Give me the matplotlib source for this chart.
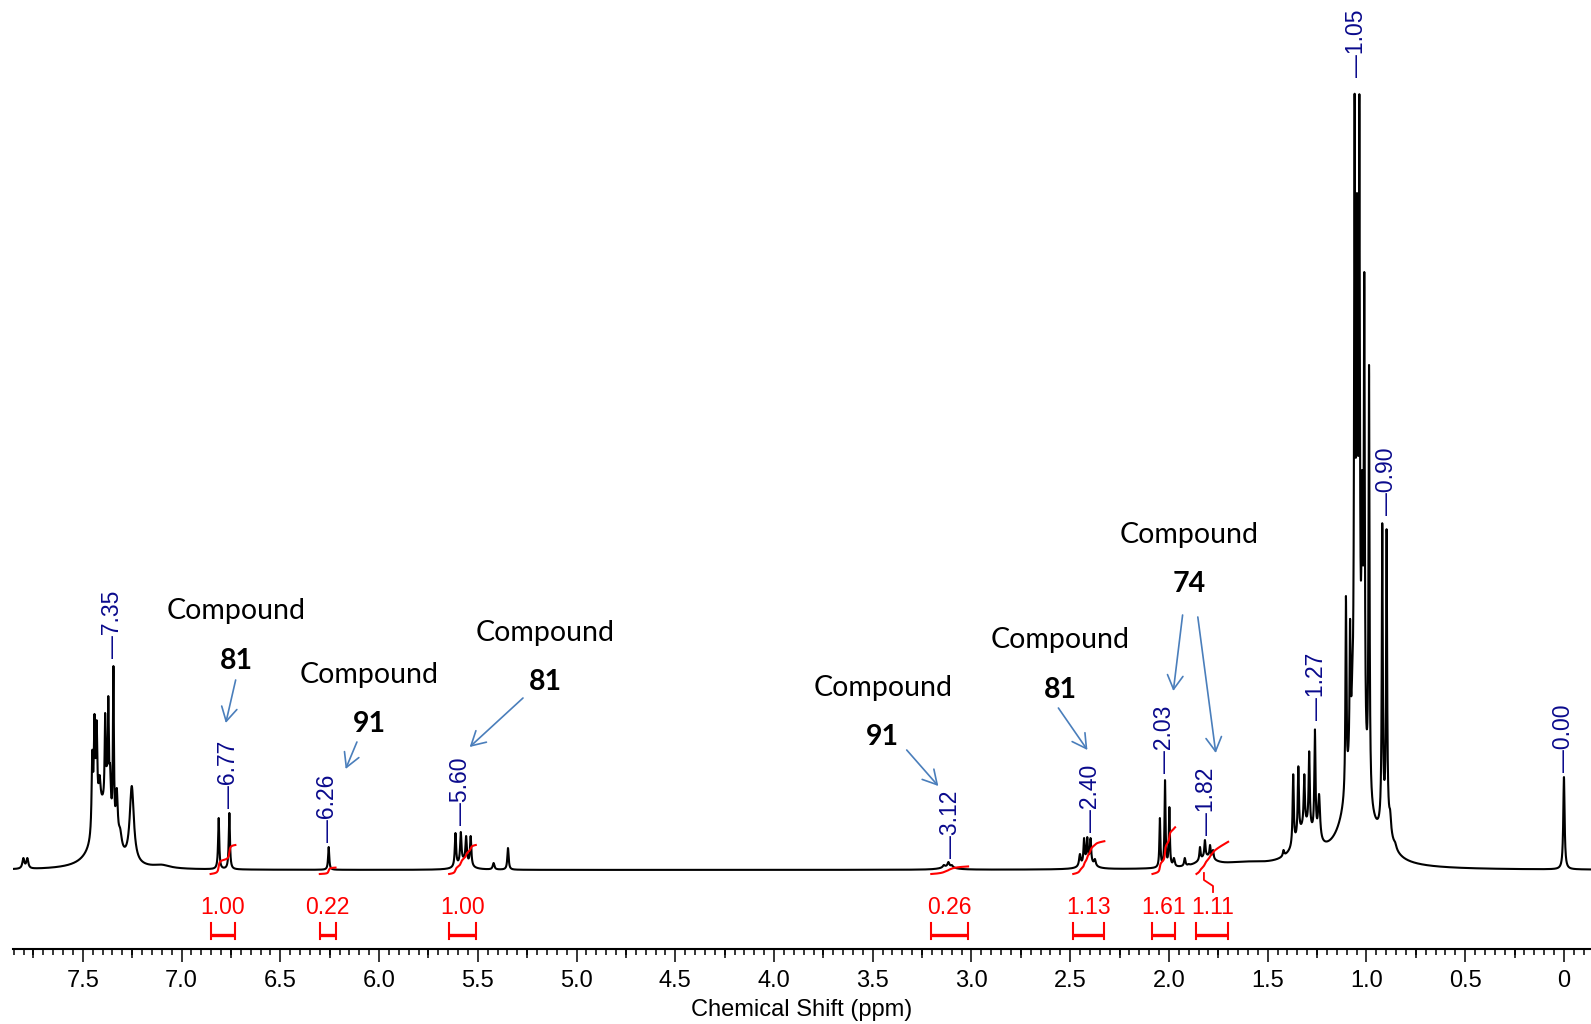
import numpy as np
import matplotlib
matplotlib.use("Agg")
import matplotlib.pyplot as plt
from matplotlib.ticker import MultipleLocator, FuncFormatter

# ---- sharp lines: shift (ppm), height (px above baseline), width (ppm)
peak_ppm = [7.801, 7.781,
            7.452, 7.441, 7.430, 7.415, 7.387, 7.379, 7.371, 7.362, 7.345, 7.328, 7.311, 7.252,
            6.812, 6.758, 6.255,
            5.613, 5.586, 5.559, 5.536, 5.42, 5.347,
            3.14, 3.117, 3.10,
            2.451, 2.430, 2.414, 2.397, 2.375,
            2.046, 2.020, 1.998, 1.975, 1.92, 1.90,
            1.843, 1.818, 1.792, 1.777,
            1.42, 1.371, 1.345, 1.315, 1.29, 1.261, 1.24,
            1.104, 1.083, 1.072, 1.060, 1.048, 1.036, 1.022, 1.011, 0.987,
            0.920, 0.898, 0.880, 0.855,
            0.000]
peak_height = [12, 12,
               120, 156, 150, 95, 157, 104, 174, 106, 204, 82, 42, 84,
               52, 57, 23,
               37, 38, 34, 34, 7, 22,
               5, 8, 5,
               16, 32, 33, 32, 11,
               52, 90, 63, 12, 12, 6,
               23, 30, 25, 20,
               20, 96, 104, 96, 119, 141, 76,
               274, 251, 200, 776, 677, 776, 400, 598, 505,
               347, 341, 60, 28,
               93]
peak_width = [0.012, 0.012,
              0.008, 0.008, 0.008, 0.012, 0.006, 0.010, 0.006, 0.010, 0.006, 0.012, 0.020, 0.025,
              0.007, 0.007, 0.007,
              0.008, 0.008, 0.008, 0.008, 0.010, 0.008,
              0.012, 0.010, 0.012,
              0.010, 0.007, 0.007, 0.007, 0.010,
              0.006, 0.006, 0.006, 0.010, 0.008, 0.010,
              0.007, 0.007, 0.007, 0.007,
              0.008, 0.007, 0.007, 0.007, 0.007, 0.007, 0.012,
              0.006, 0.006, 0.008, 0.006, 0.008, 0.006, 0.008, 0.006, 0.006,
              0.006, 0.006, 0.010, 0.015,
              0.008]

# ---- broad envelopes under the multiplets: centre (ppm), amplitude (px), width (ppm)
hump_ppm = [7.40, 7.10, 5.57, 3.12, 2.41, 1.81, 1.62, 1.31, 1.05, 0.90]
hump_amp = [60, 3, 8, 3, 8, 10, 5, 35, 120, 30]
hump_width = [0.10, 0.10, 0.06, 0.08, 0.06, 0.10, 0.30, 0.12, 0.12, 0.06]

# ---- peak picking labels
label_text = ["7.35", "6.77", "6.26", "5.60", "3.12", "2.40", "2.03", "1.82", "1.27", "1.05", "0.90", "0.00"]
label_ppm = [7.349, 6.761, 6.262, 5.589, 3.105, 2.396, 2.021, 1.810, 1.255, 1.049, 0.896, 0.000]
label_base = [212, 62, 28, 45, 12, 38, 97, 35, 150, 793, 355, 98]

# ---- integrals: region (ppm from, ppm to) and value
integral_from = [6.853, 6.300, 5.645, 3.204, 2.485, 2.084, 1.861]
integral_to = [6.727, 6.220, 5.510, 3.017, 2.327, 1.969, 1.700]
integral_value = [1.00, 0.22, 1.00, 0.26, 1.13, 1.61, 1.11]

# ---- compound annotations: text position and arrow (start -> end), ppm / px
compound_num = ["81", "91", "81", "91", "81", "74"]
compound_ppm = [6.722, 6.049, 5.160, 3.449, 2.550, 1.898]
compound_y = [259, 195, 237, 182, 230, 335]
number_y = [209, 146, 188, 133, 180, 286]
arrow_from = [(6.726, 190), (6.112, 128), (5.271, 172), (3.328, 120), (2.560, 162), (1.931, 255), (1.854, 253)]
arrow_to = [(6.776, 147), (6.169, 101), (5.541, 123), (3.168, 84), (2.413, 120), (1.978, 179), (1.763, 117)]

X_LEFT, X_RIGHT = 7.856, -0.137
NAVY = "#0a0a8c"
RED = "#ff0000"
ARROW = "#4a7ebb"


def lorentz(x, x0, w):
    return 1.0 / (1.0 + ((x - x0) / (0.5 * w)) ** 2)


def humps(x):
    x = np.asarray(x)
    return lorentz(x[..., None], np.array(hump_ppm), np.array(hump_width)) @ np.array(hump_amp, float)


pos = np.array(peak_ppm)
hgt = np.array(peak_height, dtype=float) - humps(pos)
wid = np.array(peak_width)

# line amplitudes so the summed curve goes through the read heights (kept >= 0)
M = lorentz(pos[:, None], pos[None, :], wid[None, :])
active = np.ones(len(pos), bool)
amp = np.zeros(len(pos))
for _ in range(30):
    sol, *_ = np.linalg.lstsq(M[:, active], hgt, rcond=None)
    amp[:] = 0
    amp[active] = sol
    if (sol >= 0).all():
        break
    active &= amp >= 0

ppm = np.linspace(X_LEFT, X_RIGHT, 16001)
spec = lorentz(ppm[:, None], pos[None, :], wid[None, :]) @ amp + humps(ppm)

fig = plt.figure(figsize=(15.91, 10.24), dpi=100)
ax = fig.add_axes([12.5 / 1591, 75 / 1024, 1 - 12.5 / 1591, 949 / 1024])
ax.set_xlim(X_LEFT, X_RIGHT)
ax.set_ylim(-79, 870)

ax.plot(ppm, spec, color="black", lw=1.5)

# integral curves + brackets
for p0, p1, val in zip(integral_from, integral_to, integral_value):
    m = (ppm <= p0) & (ppm >= p1)
    cum = np.cumsum(spec[m])
    cum = cum / cum[-1] * val * 29 - 4
    ax.plot(ppm[m], cum, color=RED, lw=1.5)
    ax.plot([p0, p1], [-65, -65], color=RED, lw=2.4, solid_capstyle="butt")
    ax.plot([p0, p0], [-53, -69], color=RED, lw=1.5)
    ax.plot([p1, p1], [-53, -69], color=RED, lw=1.5)
    ax.text((p0 + p1) / 2, -37, f"{val:.2f}", color=RED, fontsize=16.5,
            family="Liberation Sans", ha="center", va="center")
# little leader under the 1.82 integral
ax.plot([1.823, 1.823, 1.777, 1.777], [-3, -10, -16, -22], color=RED, lw=1.3)

# peak labels
for txt, p, b in zip(label_text, label_ppm, label_base):
    ax.text(p, b, "\u2014" + txt, rotation=90, ha="center", va="bottom", color=NAVY,
            fontsize=16.5, family="Liberation Sans")

# compound annotations
for num, p, yc, yn in zip(compound_num, compound_ppm, compound_y, number_y):
    ax.text(p, yc, "Compound", ha="center", va="center", fontsize=20.5, family="Lato")
    ax.text(p, yn, num, ha="center", va="center", fontsize=20.5, family="Lato", fontweight="bold")
for a, b in zip(arrow_from, arrow_to):
    ax.annotate("", xy=b, xytext=a,
                arrowprops=dict(arrowstyle="->,head_length=0.5,head_width=0.28",
                                color=ARROW, lw=1.2, shrinkA=0, shrinkB=0, mutation_scale=20))

# axis
for s in ("top", "left", "right"):
    ax.spines[s].set_visible(False)
ax.spines["bottom"].set_linewidth(1.5)
ax.set_yticks([])
ax.xaxis.set_major_locator(MultipleLocator(0.5))
ax.xaxis.set_minor_locator(MultipleLocator(0.05))
ax.xaxis.set_major_formatter(FuncFormatter(lambda v, _: "0" if abs(v) < 1e-9 else f"{v:.1f}"))
ax.tick_params(axis="x", which="major", length=9.4, width=1.1, pad=6, labelsize=17)
ax.tick_params(axis="x", which="minor", length=4.3, width=1.1)
for lab in ax.get_xticklabels():
    lab.set_family("Liberation Sans")
sec = ax.secondary_xaxis("bottom")
sec.set_xticks(np.arange(0.25, 7.8, 0.5))
sec.tick_params(length=6.5, width=1.1, labelbottom=False)
sec.spines["bottom"].set_visible(False)
ax.set_xlabel("Chemical Shift (ppm)", fontsize=17, family="Liberation Sans", labelpad=5)

fig.savefig("out.png", dpi=100)
